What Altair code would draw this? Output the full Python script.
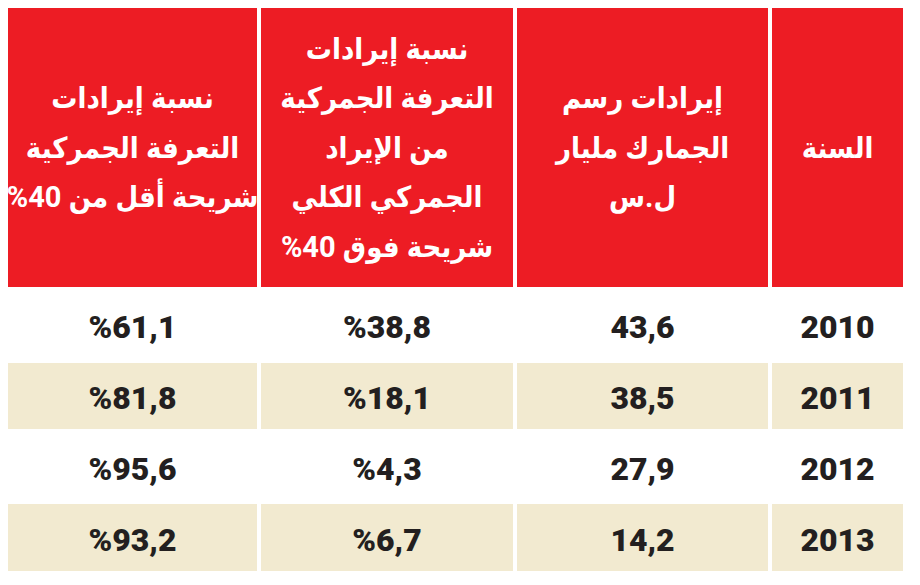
import altair as alt
import pandas as pd

# ---- data (columns listed right-to-left, as in the table) ----
years = ["2010", "2011", "2012", "2013"]
customs_revenue = [43.6, 38.5, 27.9, 14.2]          # إيرادات رسم الجمارك مليار ل.س
share_above_40 = [38.8, 18.1, 4.3, 6.7]             # شريحة فوق 40%
share_below_40 = [61.1, 81.8, 95.6, 93.2]           # شريحة أقل من 40%
header_lines = [
    ["السنة"],
    ["إيرادات رسم", "الجمارك مليار", "ل.س"],
    ["نسبة إيرادات", "التعرفة الجمركية", "من الإيراد", "الجمركي الكلي", "%40 شريحة فوق"],
    ["نسبة إيرادات", "التعرفة الجمركية", "%40 شريحة أقل من"],
]

# ---- layout (plot-area pixels) ----
W, H = 904, 569
col_edges = [(764, 895), (509, 760), (253, 505), (0, 249)]
header_y = (0, 279)
row_edges = [(279, 355), (355, 421), (421, 496), (496, 563)]
LINE_H = 49.5
RED = "#ed1c24"
BEIGE = "#f2ead0"
INK = "#231f20"


def fmt(v, pct):
    s = f"{v:.1f}".replace(".", ",")
    return "%" + s if pct else s


# header cells
hdr = pd.DataFrame({
    "x0": [c[0] for c in col_edges],
    "x1": [c[1] for c in col_edges],
    "y0": [header_y[0]] * 4,
    "y1": [header_y[1]] * 4,
})

hdr_center = (header_y[0] + header_y[1]) / 2 + 1
hdr_line_rows = []
for c, lines in enumerate(header_lines):
    n = len(lines)
    for i, line in enumerate(lines):
        hdr_line_rows.append({
            "xc": (col_edges[c][0] + col_edges[c][1]) / 2,
            "yc": hdr_center + (i - (n - 1) / 2) * LINE_H,
            "label": line,
        })
hdr_lines_df = pd.DataFrame(hdr_line_rows)

# body cells
body_rows = []
for r, yr in enumerate(years):
    vals = [yr, fmt(customs_revenue[r], False), fmt(share_above_40[r], True), fmt(share_below_40[r], True)]
    for c, v in enumerate(vals):
        body_rows.append({
            "x0": col_edges[c][0], "x1": col_edges[c][1],
            "y0": row_edges[r][0], "y1": row_edges[r][1],
            "xc": (col_edges[c][0] + col_edges[c][1]) / 2,
            "yb": (row_edges[r][0] + row_edges[r][1]) / 2 + 13,
            "label": v,
            "shade": r % 2 == 1,
        })
body = pd.DataFrame(body_rows)

xs = alt.Scale(domain=[0, W], range=[0, W], nice=False, zero=False)
ys = alt.Scale(domain=[0, H], range=[0, H], nice=False, zero=False)


def X(f):
    return alt.X(f, type="quantitative", scale=xs, axis=None)


def Y(f):
    return alt.Y(f, type="quantitative", scale=ys, axis=None)


hdr_rect = alt.Chart(hdr).mark_rect(color=RED).encode(
    x=X("x0"), x2="x1", y=Y("y0"), y2="y1"
)
hdr_text = alt.Chart(hdr_lines_df).mark_text(
    color="white", font="Roboto, DejaVu Sans Condensed, DejaVu Sans", fontWeight="bold",
    fontSize=29, baseline="middle", align="center"
).encode(x=X("xc"), y=Y("yc"), text="label:N")

body_rect = alt.Chart(body).transform_filter("datum.shade").mark_rect(color=BEIGE).encode(
    x=X("x0"), x2="x1", y=Y("y0"), y2="y1"
)
body_text = alt.Chart(body).mark_text(
    color=INK, font="Roboto", fontWeight=900,
    fontSize=32, baseline="alphabetic", align="center"
).encode(x=X("xc"), y=Y("yb"), text="label:N")

chart = alt.layer(hdr_rect, body_rect, hdr_text, body_text).properties(
    width=W, height=H, padding=0, autosize=alt.AutoSizeParams(type="none"),
    background="white"
).configure_view(stroke=None)

chart.save("out.html", embed_options={"renderer": "svg", "actions": False})
